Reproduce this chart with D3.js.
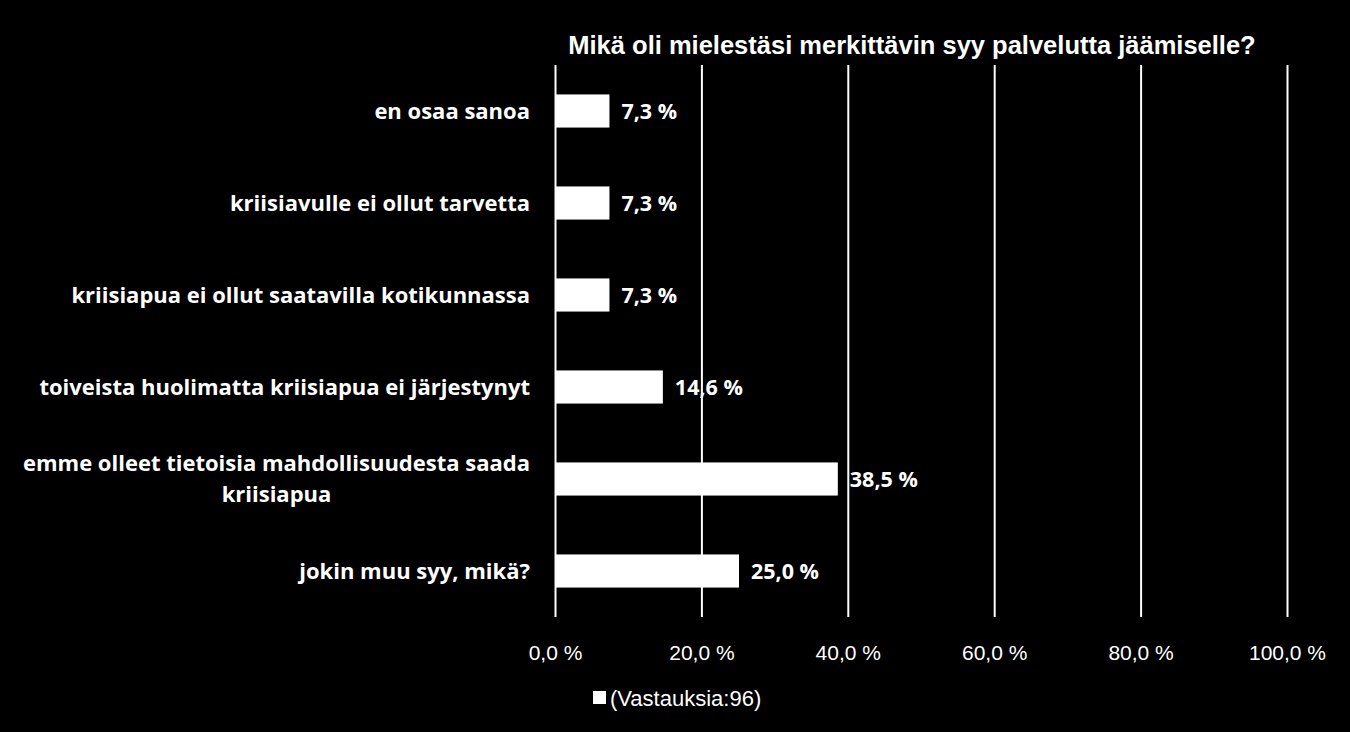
<!DOCTYPE html>
<html>
<head>
<meta charset="utf-8">
<script src="https://cdn.jsdelivr.net/npm/d3@7"></script>
<style>
  html, body { margin: 0; padding: 0; background: #000; }
  svg { display: block; }
</style>
</head>
<body>
<svg id="chart" width="1350" height="732"></svg>
<script>
// Data
const categories = [
    ['en osaa sanoa'],
    ['kriisiavulle ei ollut tarvetta'],
    ['kriisiapua ei ollut saatavilla kotikunnassa'],
    ['toiveista huolimatta kriisiapua ei järjestynyt'],
    ['emme olleet tietoisia mahdollisuudesta saada', 'kriisiapua'],
    ['jokin muu syy, mikä?']
];
const values = [7.3, 7.3, 7.3, 14.6, 38.5, 25.0];
const xTicks = [0, 20, 40, 60, 80, 100];
const title = 'Mikä oli mielestäsi merkittävin syy palvelutta jäämiselle?';
const legendLabel = '(Vastauksia:96)';

const svg = d3.select('#chart');
const margin = { top: 65, right: 63, bottom: 115, left: 555 };
const width = 1350 - margin.left - margin.right;
const height = 732 - margin.top - margin.bottom;

const fmt = v => v.toFixed(1).replace('.', ',') + ' %';

const xScale = d3.scaleLinear().domain([0, 100]).range([0, width]);
const yScale = d3.scaleBand()
    .domain(d3.range(categories.length))
    .range([0, height])
    .paddingInner(0.64)
    .paddingOuter(0.32);

svg.append('rect').attr('width', 1350).attr('height', 732).attr('fill', '#000');

// title
svg.append('text')
    .attr('x', 912).attr('y', 54)
    .attr('text-anchor', 'middle')
    .attr('fill', '#fff')
    .style('font-family', 'Liberation Sans, Arial, sans-serif')
    .style('font-weight', 'bold')
    .style('font-size', '25.5px')
    .text(title);

const g = svg.append('g').attr('transform', `translate(${margin.left},${margin.top})`);

// gridlines + ticks via axis
const xAxis = d3.axisBottom(xScale)
    .tickValues(xTicks)
    .tickSize(height)
    .tickFormat(fmt);

const ax = g.append('g').call(xAxis);
ax.select('.domain').remove();
ax.selectAll('line').attr('stroke', '#fff').attr('stroke-width', 2);
ax.selectAll('text')
    .attr('fill', '#fff')
    .attr('y', height + 28)
    .style('font-family', 'Liberation Sans, Arial, sans-serif')
    .style('font-size', '21px');

// bars
g.selectAll('.bar')
    .data(values)
    .enter().append('rect')
    .attr('class', 'bar')
    .attr('x', xScale(0) + 1)
    .attr('y', (d, i) => yScale(i))
    .attr('width', d => xScale(d) - xScale(0))
    .attr('height', yScale.bandwidth())
    .attr('fill', '#fff');

// value labels
g.selectAll('.val')
    .data(values)
    .enter().append('text')
    .attr('class', 'val')
    .attr('x', d => xScale(d) + 13)
    .attr('y', (d, i) => yScale(i) + yScale.bandwidth() / 2)
    .attr('dy', '0.35em')
    .attr('fill', '#fff')
    .style('font-family', 'Open Sans, sans-serif')
    .style('font-weight', 'bold')
    .style('font-size', '21.5px')
    .text(fmt);

// category labels, wrapped lines centered on each other
const labelRight = -25;
categories.forEach((lines, i) => {
    const cy = yScale(i) + yScale.bandwidth() / 2;
    const t = g.append('text')
        .attr('fill', '#fff')
        .style('font-family', 'Open Sans, sans-serif')
        .style('font-weight', 'bold')
        .style('font-size', '22px');
    if (lines.length === 1) {
        t.attr('x', labelRight).attr('y', cy).attr('dy', '0.35em')
            .attr('text-anchor', 'end').text(lines[0]);
    } else {
        const lh = 31;
        const tmp = t.append('tspan').text(lines[0]);
        const w = tmp.node().getComputedTextLength();
        tmp.remove();
        const cx = labelRight - w / 2;
        t.attr('text-anchor', 'middle');
        lines.forEach((ln, k) => {
            t.append('tspan')
                .attr('x', cx)
                .attr('y', cy + (k - (lines.length - 1) / 2) * lh)
                .attr('dy', '0.35em')
                .text(ln);
        });
    }
});

// legend
const lg = svg.append('g').attr('transform', 'translate(593,691)');
lg.append('rect').attr('width', 13).attr('height', 13).attr('fill', '#fff');
lg.append('text')
    .attr('x', 17).attr('y', 7).attr('dy', '0.35em')
    .attr('fill', '#fff')
    .style('font-family', 'Liberation Sans, Arial, sans-serif')
    .style('font-size', '22px')
    .text(legendLabel);
</script>
</body>
</html>
